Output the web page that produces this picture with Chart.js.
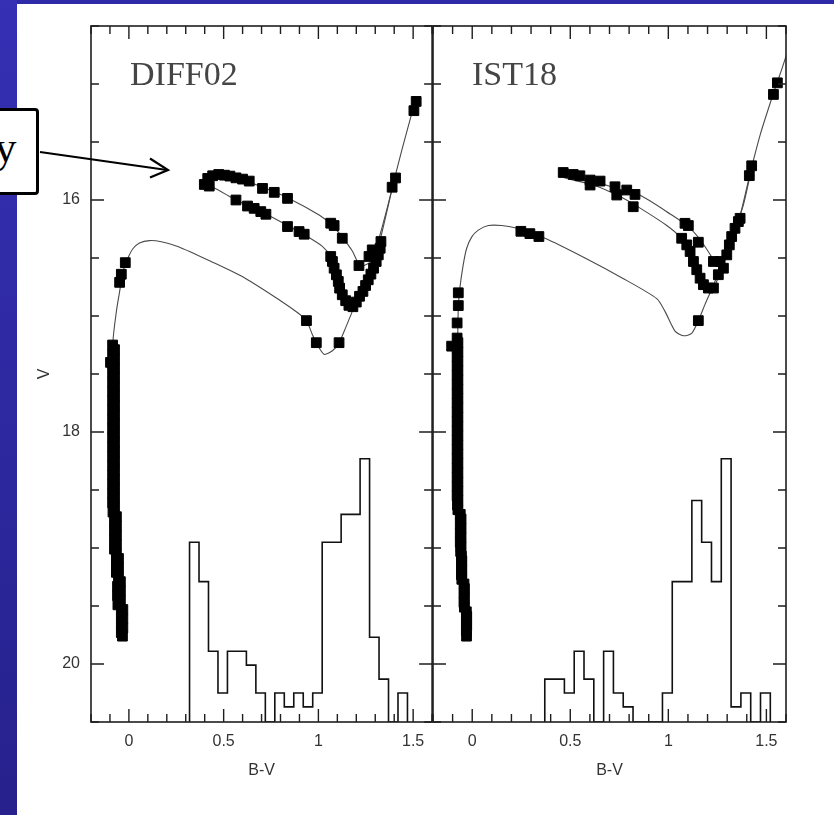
<!DOCTYPE html>
<html>
<head>
<meta charset="utf-8">
<script src="https://cdn.jsdelivr.net/npm/chart.js@4.4.1/dist/chart.umd.min.js"></script>
<style>
html, body { margin: 0; padding: 0; }
body { width: 834px; height: 815px; position: relative; overflow: hidden; background: #fff; }
#topband { position: absolute; left: 0; top: 0; width: 834px; height: 4px; background: #2e2aa8; }
#leftband { position: absolute; left: 0; top: 0; width: 17px; height: 815px; background: linear-gradient(#3530b4, #26218c); }
#cL { position: absolute; left: 0; top: 0; }
#cR { position: absolute; left: 420px; top: 0; }
#arrow { position: absolute; left: 0; top: 0; pointer-events: none; }
#note { position: absolute; left: -30px; top: 108px; width: 63px; height: 81px; border: 3.5px solid #000; border-radius: 4px; background: #fff; overflow: hidden; }
#note span { position: absolute; right: 19.5px; top: 15px; font: 44px/44px "Liberation Serif", serif; color: #000; }
</style>
</head>
<body>
<div id="topband"></div>
<div id="leftband"></div>
<canvas id="cL" width="440" height="815"></canvas>
<canvas id="cR" width="414" height="815"></canvas>
<svg id="arrow" width="834" height="815">
  <line x1="40" y1="152" x2="167" y2="170" stroke="#000" stroke-width="2.2"/>
  <polyline points="150,158.5 168,170 150,177.5" fill="none" stroke="#000" stroke-width="2.2"/>
</svg>
<div id="note"><span>y</span></div>
<script>
// axis ranges and labelled ticks
var xMin = -0.2, xMax = 1.6;
var vBright = 14.5, vFaint = 20.5;
var xTickValues = [0, 0.5, 1, 1.5];
var yTickValues = [16, 18, 20];

// DIFF02 panel
var diffIso = [[-0.045,19.80],[-0.055,19.40],[-0.066,19.00],[-0.074,18.60],[-0.077,18.10],[-0.080,17.60],[-0.084,17.22],
	[-0.066,16.96],[-0.049,16.79],[-0.032,16.62],[-0.005,16.50],[0.021,16.42],[0.056,16.37],[0.109,16.35],[0.171,16.36],
	[0.258,16.40],[0.434,16.53],[0.609,16.67],[0.802,16.87],[0.889,16.97],[0.937,17.04],[0.968,17.16],[0.989,17.23],
	[1.030,17.33],[1.074,17.30],[1.109,17.23],[1.144,17.10],[1.179,16.96],[1.223,16.79],[1.267,16.59],[1.320,16.33],
	[1.363,16.07],[1.398,15.84],[1.442,15.56],[1.495,15.24],[1.516,15.11]];
var diffLoop = [[1.284,16.53],[1.223,16.57],[1.179,16.44],[1.126,16.32],[1.074,16.22],[1.004,16.13],[0.837,15.98],
	[0.705,15.89],[0.590,15.82],[0.477,15.78],[0.416,15.79],[0.386,15.84],[0.398,15.88],[0.442,15.89],[0.565,16.00],
	[0.723,16.12],[0.925,16.30],[1.021,16.40],[1.065,16.49],[1.091,16.62],[1.118,16.77],[1.144,16.89],[1.170,16.93],
	[1.205,16.86],[1.249,16.70],[1.293,16.52],[1.328,16.33],[1.398,15.84]];
var diffMainSeq = [
	[-0.086,17.25],[-0.076,17.29],[-0.086,17.33],[-0.076,17.37],[-0.097,17.40],[-0.086,17.41],[-0.076,17.45],[-0.086,17.49],
	[-0.076,17.53],[-0.086,17.57],[-0.076,17.61],[-0.086,17.65],[-0.076,17.69],[-0.086,17.73],[-0.076,17.77],[-0.086,17.81],
	[-0.076,17.85],[-0.086,17.89],[-0.076,17.93],[-0.086,17.97],[-0.076,18.01],[-0.086,18.05],[-0.076,18.09],[-0.086,18.13],
	[-0.076,18.17],[-0.086,18.21],[-0.076,18.25],[-0.086,18.29],[-0.076,18.33],[-0.086,18.37],[-0.076,18.41],[-0.086,18.45],
	[-0.076,18.49],[-0.086,18.53],[-0.076,18.57],[-0.086,18.61],[-0.076,18.65],[-0.084,18.69],[-0.066,18.73],[-0.076,18.77],
	[-0.066,18.81],[-0.076,18.85],[-0.066,18.89],[-0.076,18.93],[-0.066,18.97],[-0.076,19.01],[-0.066,19.05],[-0.055,19.09],
	[-0.066,19.13],[-0.055,19.17],[-0.066,19.21],[-0.055,19.25],[-0.045,19.29],[-0.060,19.33],[-0.045,19.37],[-0.060,19.41],
	[-0.045,19.45],[-0.058,19.49],[-0.032,19.53],[-0.040,19.57],[-0.032,19.61],[-0.040,19.65],[-0.032,19.69],[-0.040,19.73],
	[-0.034,19.76]];
var diffStars = [
	[-0.019,16.54],[-0.040,16.64],[-0.049,16.71],
	[0.937,17.04],[0.989,17.23],[1.109,17.23],
	[1.516,15.15],[1.504,15.23],[1.407,15.81],[1.389,15.89],
	[0.398,15.866],[0.416,15.814],[0.424,15.880],[0.442,15.791],[0.474,15.780],[0.504,15.786],[0.533,15.794],[0.565,15.809],
	[0.600,15.820],[0.635,15.837],[0.705,15.900],[0.767,15.934],[0.837,15.986],[1.065,16.200],[1.083,16.220],[1.126,16.330],
	[1.214,16.565],
	[0.565,16.000],[0.626,16.052],[0.661,16.072],[0.696,16.100],[0.723,16.123],[0.837,16.229],[0.898,16.272],[0.925,16.295],
	[1.065,16.487],[1.074,16.530],[1.083,16.588],[1.095,16.645],[1.105,16.702],[1.112,16.760],[1.126,16.817],[1.144,16.868],
	[1.161,16.908],[1.182,16.920],[1.200,16.880],[1.217,16.830],[1.235,16.788],[1.249,16.737],[1.263,16.688],[1.277,16.639],
	[1.291,16.588],[1.305,16.530],[1.316,16.473],[1.326,16.416],[1.330,16.358],[1.284,16.430],[1.267,16.487]];
var diffHistEdges = [0.32,0.37,0.42,0.47,0.52,0.57,0.62,0.67,0.72,0.77,0.82,0.87,0.92,0.97,1.02,1.07,1.12,1.17,1.22,1.27,1.32,1.37,1.42,1.47];
var diffHistTops = [18.95,19.29,19.89,20.25,19.89,19.89,20.01,20.25,20.5,20.25,20.37,20.25,20.37,20.25,18.95,18.95,18.71,18.71,18.23,19.77,20.13,20.5,20.25];

// IST18 panel
var istIso = [[-0.030,19.80],[-0.041,19.40],[-0.055,19.10],[-0.062,18.80],[-0.073,18.30],[-0.075,17.60],[-0.074,17.20],
	[-0.071,16.93],[-0.063,16.76],[-0.046,16.56],[-0.029,16.42],[-0.003,16.32],[0.031,16.26],[0.082,16.22],[0.150,16.22],
	[0.218,16.24],[0.371,16.33],[0.575,16.50],[0.762,16.67],[0.941,16.85],[0.983,16.96],[1.034,17.13],[1.077,17.17],
	[1.119,17.15],[1.153,17.04],[1.187,16.90],[1.221,16.77],[1.264,16.59],[1.315,16.36],[1.366,16.13],[1.417,15.77],
	[1.468,15.44],[1.536,15.08],[1.579,14.87],[1.604,14.74]];
var istLoop = [[1.247,16.56],[1.170,16.36],[1.102,16.23],[1.009,16.12],[0.856,15.96],[0.754,15.91],[0.584,15.82],
	[0.464,15.76],[0.444,15.78],[0.473,15.81],[0.617,15.87],[0.754,15.97],[0.856,16.07],[0.992,16.22],[1.060,16.32],
	[1.102,16.44],[1.136,16.59],[1.170,16.72],[1.204,16.77],[1.238,16.73],[1.272,16.59],[1.306,16.44],[1.349,16.22],
	[1.383,16.04],[1.417,15.79]];
var istMainSeq = [
	[-0.077,17.19],[-0.073,17.23],[-0.105,17.26],[-0.077,17.27],[-0.073,17.31],[-0.077,17.35],[-0.073,17.39],[-0.077,17.43],
	[-0.073,17.47],[-0.077,17.51],[-0.073,17.55],[-0.077,17.59],[-0.073,17.63],[-0.077,17.67],[-0.073,17.71],[-0.077,17.75],
	[-0.073,17.79],[-0.077,17.83],[-0.073,17.87],[-0.077,17.91],[-0.073,17.95],[-0.077,17.99],[-0.073,18.03],[-0.077,18.07],
	[-0.073,18.11],[-0.077,18.15],[-0.073,18.19],[-0.077,18.23],[-0.073,18.27],[-0.077,18.31],[-0.073,18.35],[-0.077,18.39],
	[-0.073,18.43],[-0.077,18.47],[-0.073,18.51],[-0.077,18.55],[-0.073,18.59],[-0.075,18.63],[-0.073,18.67],[-0.061,18.71],
	[-0.057,18.75],[-0.061,18.79],[-0.057,18.83],[-0.061,18.87],[-0.057,18.91],[-0.061,18.95],[-0.057,18.99],[-0.059,19.03],
	[-0.055,19.07],[-0.053,19.11],[-0.055,19.15],[-0.053,19.19],[-0.055,19.23],[-0.053,19.27],[-0.042,19.31],[-0.040,19.35],
	[-0.042,19.39],[-0.040,19.43],[-0.042,19.47],[-0.040,19.51],[-0.030,19.55],[-0.028,19.59],[-0.030,19.63],[-0.028,19.67],
	[-0.030,19.71],[-0.029,19.76]];
var istStars = [
	[-0.071,16.80],[-0.071,16.91],[-0.077,17.06],[0.248,16.27],[0.294,16.29],[0.340,16.315],[1.153,17.04],
	[1.556,14.99],[1.536,15.09],[1.425,15.705],[1.413,15.79],
	[0.464,15.763],[0.515,15.780],[0.549,15.791],[0.601,15.828],[0.652,15.837],[0.601,15.871],[0.728,15.886],[0.737,15.957],
	[0.788,15.914],[0.830,15.952],[0.821,16.058],[1.085,16.201],[1.102,16.220],[1.153,16.364],[1.068,16.330],[1.094,16.387],
	[1.111,16.444],[1.128,16.530],[1.145,16.601],[1.162,16.674],[1.179,16.730],[1.204,16.759],[1.230,16.759],[1.230,16.530],
	[1.264,16.530],[1.255,16.644],[1.281,16.588],[1.298,16.473],[1.311,16.387],[1.323,16.315],[1.340,16.244],[1.357,16.186],
	[1.366,16.158]];
var istHistEdges = [0.37,0.42,0.47,0.52,0.57,0.62,0.67,0.72,0.77,0.82,0.87,0.92,0.97,1.02,1.07,1.12,1.17,1.22,1.27,1.32,1.37,1.42,1.47,1.52];
var istHistTops = [20.13,20.13,20.25,19.89,20.13,20.5,19.89,20.25,20.37,20.5,20.5,20.5,20.25,19.29,19.29,18.59,18.95,19.29,18.23,20.37,20.25,20.5,20.25];

var textColor = '#333';
var labelFont = { family: '"Liberation Sans", Arial, sans-serif', size: 16 };

function toXY(arr) {
	return arr.map(function (p) { return { x: p[0], y: p[1] }; });
}

// histogram outline drawn as a step line resting on the bottom of the frame
function histPoints(edges, tops) {
	var pts = [{ x: edges[0], y: vFaint }];
	for (var i = 0; i < tops.length; i++) {
		pts.push({ x: edges[i], y: tops[i] });
		pts.push({ x: edges[i + 1], y: tops[i] });
	}
	pts.push({ x: edges[edges.length - 1], y: vFaint });
	return pts;
}

var framePlugin = {
	id: 'frame',
	afterDatasetsDraw: function (chart, args, opts) {
		var ctx = chart.ctx, a = chart.chartArea;
		var xs = chart.scales.x, ys = chart.scales.y;
		var i, v, p, len;
		ctx.save();
		ctx.strokeStyle = '#1e1e1e';
		ctx.lineWidth = 1.6;
		ctx.strokeRect(a.left, a.top, a.right - a.left, a.bottom - a.top);
		ctx.lineWidth = 1.4;
		ctx.beginPath();
		for (i = 0; i <= 18; i++) {
			v = xMin + i / 10;
			p = xs.getPixelForValue(v);
			len = (i % 5 === 2) ? 13 : 8;
			ctx.moveTo(p, a.top); ctx.lineTo(p, a.top + len);
			ctx.moveTo(p, a.bottom); ctx.lineTo(p, a.bottom - len);
		}
		for (i = 0; i <= 12; i++) {
			v = vBright + i / 2;
			p = ys.getPixelForValue(v);
			len = (i % 4 === 3) ? 13 : 8;
			ctx.moveTo(a.left, p); ctx.lineTo(a.left + len, p);
			ctx.moveTo(a.right, p); ctx.lineTo(a.right - len, p);
		}
		ctx.stroke();
		ctx.fillStyle = '#454545';
		ctx.font = '34px "Liberation Serif", serif';
		ctx.textBaseline = 'alphabetic';
		ctx.fillText(opts.label, a.left + 39, 85);
		ctx.restore();
	}
};

function makePanel(canvasId, o) {
	var ctx = document.getElementById(canvasId).getContext('2d');
	var square = {
		pointStyle: 'rect',
		pointRadius: 6.9,
		pointBorderWidth: 1,
		backgroundColor: '#000',
		borderColor: '#000',
		order: 0
	};
	var curve = {
		type: 'line',
		borderColor: '#4a4a4a',
		borderWidth: 1.1,
		pointRadius: 0,
		fill: false,
		tension: 0.25,
		order: 2
	};
	return new Chart(ctx, {
		type: 'scatter',
		data: {
			datasets: [
				Object.assign({ data: toXY(o.mainSeq) }, square),
				Object.assign({ data: toXY(o.stars) }, square),
				{
					type: 'line',
					data: histPoints(o.edges, o.tops),
					borderColor: '#111',
					borderWidth: 1.6,
					pointRadius: 0,
					fill: false,
					tension: 0,
					order: 1
				},
				Object.assign({ data: toXY(o.iso) }, curve),
				Object.assign({ data: toXY(o.loop) }, curve)
			]
		},
		options: {
			responsive: false,
			animation: false,
			devicePixelRatio: 1,
			events: [],
			layout: { padding: { top: 26, right: o.padRight, left: 0, bottom: 0 } },
			plugins: {
				legend: { display: false },
				tooltip: { enabled: false },
				frame: { label: o.label }
			},
			scales: {
				x: {
					type: 'linear',
					min: xMin,
					max: xMax,
					afterBuildTicks: function (s) { s.ticks = xTickValues.map(function (v) { return { value: v }; }); },
					afterFit: function (s) { s.height = 93; },
					grid: { display: false, drawTicks: false },
					border: { display: false },
					ticks: {
						padding: 10, color: textColor, font: labelFont, maxRotation: 0, autoSkip: false,
						callback: function (v) { return String(v); }
					},
					title: { display: true, text: 'B-V', color: textColor, font: labelFont, padding: { top: 0, bottom: 35 } }
				},
				y: {
					type: 'linear',
					reverse: true,
					min: vBright,
					max: vFaint,
					afterBuildTicks: function (s) { s.ticks = yTickValues.map(function (v) { return { value: v }; }); },
					afterFit: function (s) { s.width = o.yWidth; },
					grid: { display: false, drawTicks: false },
					border: { display: false },
					ticks: { display: o.showY, padding: 11, color: textColor, font: labelFont },
					title: { display: o.showY, text: 'V', color: textColor, font: labelFont, padding: { top: 35, bottom: 0 } }
				}
			}
		},
		plugins: [framePlugin]
	});
}

makePanel('cL', {
	label: 'DIFF02', mainSeq: diffMainSeq, stars: diffStars, iso: diffIso, loop: diffLoop,
	edges: diffHistEdges, tops: diffHistTops, showY: true, yWidth: 91, padRight: 7
});
makePanel('cR', {
	label: 'IST18', mainSeq: istMainSeq, stars: istStars, iso: istIso, loop: istLoop,
	edges: istHistEdges, tops: istHistTops, showY: false, yWidth: 13, padRight: 48
});
</script>
</body>
</html>
